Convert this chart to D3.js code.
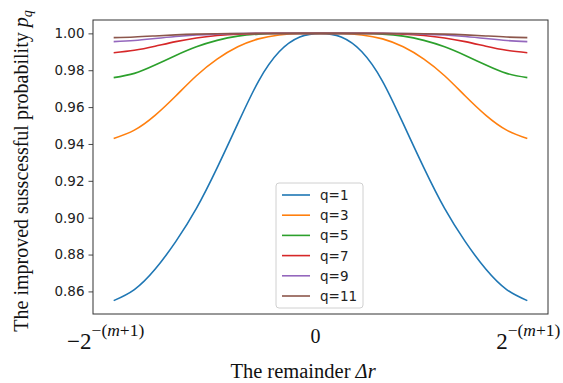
<!DOCTYPE html>
<html>
<head>
<meta charset="utf-8">
<script src="https://cdn.jsdelivr.net/npm/d3@7"></script>
<style>
  body { margin: 0; background: #fff; }
  svg { display: block; }
</style>
</head>
<body>
<div id="chart"></div>
<script>
// remainder Δr, in units of 2^-(m+1)
const dr = [-1, -0.9, -0.8, -0.7, -0.6, -0.5, -0.4, -0.3, -0.2, -0.1, 0,
            0.1, 0.2, 0.3, 0.4, 0.5, 0.6, 0.7, 0.8, 0.9, 1];

const q1  = [0.855, 0.861, 0.872, 0.887, 0.905, 0.927, 0.951, 0.974, 0.990, 0.998, 1.000,
             0.998, 0.990, 0.974, 0.951, 0.927, 0.905, 0.887, 0.872, 0.861, 0.855];
const q3  = [0.943, 0.9475, 0.9555, 0.966, 0.977, 0.986, 0.9927, 0.9970, 0.9991, 0.9999, 1.0,
             0.9999, 0.9991, 0.9970, 0.9927, 0.986, 0.977, 0.966, 0.9555, 0.9475, 0.943];
const q5  = [0.976, 0.9783, 0.9828, 0.9880, 0.9927, 0.9962, 0.9985, 0.9996, 0.9999, 1.0, 1.0,
             1.0, 0.9999, 0.9996, 0.9985, 0.9962, 0.9927, 0.9880, 0.9828, 0.9783, 0.976];
const q7  = [0.9895, 0.9908, 0.9930, 0.9955, 0.9975, 0.9988, 0.9996, 0.9999, 1.0, 1.0, 1.0,
             1.0, 1.0, 0.9999, 0.9996, 0.9988, 0.9975, 0.9955, 0.9930, 0.9908, 0.9895];
const q9  = [0.9955, 0.9961, 0.9972, 0.9983, 0.9991, 0.9996, 0.9999, 1.0, 1.0, 1.0, 1.0,
             1.0, 1.0, 1.0, 0.9999, 0.9996, 0.9991, 0.9983, 0.9972, 0.9961, 0.9955];
const q11 = [0.9977, 0.9980, 0.9986, 0.9992, 0.9996, 0.9998, 0.9999, 1.0, 1.0, 1.0, 1.0,
             1.0, 1.0, 1.0, 0.9999, 0.9998, 0.9996, 0.9992, 0.9986, 0.9980, 0.9977];

const seriesNames = ["q=1", "q=3", "q=5", "q=7", "q=9", "q=11"];
const seriesValues = [q1, q3, q5, q7, q9, q11];
const colors = ["#1f77b4", "#ff7f0e", "#2ca02c", "#d62728", "#9467bd", "#8c564b"];
const yTicks = [0.86, 0.88, 0.90, 0.92, 0.94, 0.96, 0.98, 1.00];
const xTicks = [-1, 0, 1];

const width = 563, height = 383;
const mLeft = 93, mRight = 548, mTop = 20, mBottom = 314;

const svg = d3.select("#chart").append("svg")
    .attr("width", width)
    .attr("height", height);

// matplotlib style 5% margins
const xMin = d3.min(dr), xMax = d3.max(dr);
const xPad = (xMax - xMin) * 0.05;
const x = d3.scaleLinear().domain([xMin - xPad, xMax + xPad]).range([mLeft, mRight]);

const yMin = d3.min(seriesValues, s => d3.min(s)), yMax = d3.max(seriesValues, s => d3.max(s));
const yPad = (yMax - yMin) * 0.05;
const y = d3.scaleLinear().domain([yMin - yPad, yMax + yPad]).range([mBottom, mTop]);

// y axis
const yAxis = svg.append("g")
    .attr("transform", "translate(" + mLeft + ",0)")
    .call(d3.axisLeft(y).tickValues(yTicks).tickFormat(d3.format(".2f")).tickSize(4.5).tickPadding(4));
yAxis.select(".domain").remove();
yAxis.selectAll("line").attr("stroke", "#333").attr("stroke-width", 0.9);
yAxis.selectAll("text")
    .attr("font-family", "DejaVu Sans")
    .attr("font-size", 13.5)
    .attr("fill", "#222");

// curves
const line = d3.line()
    .x((d, i) => x(dr[i]))
    .y(d => y(d))
    .curve(d3.curveNatural);

svg.append("g").selectAll("path")
    .data(seriesValues)
    .enter().append("path")
    .attr("d", line)
    .attr("fill", "none")
    .attr("stroke", (d, i) => colors[i])
    .attr("stroke-width", 1.6);

// frame
svg.append("rect")
    .attr("x", mLeft).attr("y", mTop)
    .attr("width", mRight - mLeft).attr("height", mBottom - mTop)
    .attr("fill", "none")
    .attr("stroke", "#333")
    .attr("stroke-width", 1);

// x tick labels (math style)
const xLab = svg.append("g").attr("font-family", "Liberation Serif").attr("fill", "#111");
xTicks.forEach(function(t) {
    if (t === 0) {
        xLab.append("text")
            .attr("x", x(t) - 5).attr("y", 343)
            .attr("text-anchor", "middle")
            .attr("font-size", 20)
            .text("0");
    } else {
        const txt = xLab.append("text")
            .attr("x", x(t) + (t < 0 ? -8 : 1)).attr("y", 349)
            .attr("text-anchor", "middle")
            .attr("font-size", 23);
        txt.append("tspan").text(t < 0 ? "\u22122" : "2");
        const sup = txt.append("tspan").attr("dy", -13).attr("font-size", 17.5);
        sup.append("tspan").text("\u2212(");
        sup.append("tspan").attr("font-style", "italic").text("m");
        sup.append("tspan").text("+1)");
    }
});

// x label
const xl = svg.append("text")
    .attr("x", 303).attr("y", 378)
    .attr("text-anchor", "middle")
    .attr("font-family", "Liberation Serif")
    .attr("font-size", 20.5)
    .attr("fill", "#111");
xl.append("tspan").text("The remainder ");
xl.append("tspan").attr("font-style", "italic").text("\u0394r");

// y label
const yl = svg.append("text")
    .attr("transform", "translate(28,171) rotate(-90)")
    .attr("text-anchor", "middle")
    .attr("font-family", "Liberation Serif")
    .attr("font-size", 20)
    .attr("fill", "#111");
yl.append("tspan").text("The improved susscessful probability ");
yl.append("tspan").attr("font-style", "italic").text("p");
yl.append("tspan").attr("font-style", "italic").attr("font-size", 14).attr("dy", 4).text("q");

// legend
const lg = svg.append("g").attr("transform", "translate(276,183)");
lg.append("rect")
    .attr("width", 87).attr("height", 125)
    .attr("rx", 3)
    .attr("fill", "#fff").attr("fill-opacity", 0.8)
    .attr("stroke", "#d0d0d0").attr("stroke-width", 1);
const rows = lg.selectAll(".row")
    .data(seriesNames)
    .enter().append("g")
    .attr("class", "row")
    .attr("transform", (d, i) => "translate(0," + (12 + i * 20.2) + ")");
rows.append("line")
    .attr("x1", 6).attr("x2", 34)
    .attr("stroke", (d, i) => colors[i])
    .attr("stroke-width", 1.6);
rows.append("text")
    .attr("x", 44).attr("y", 5)
    .attr("font-family", "DejaVu Sans")
    .attr("font-size", 13.5)
    .attr("fill", "#222")
    .text(d => d);
</script>
</body>
</html>
